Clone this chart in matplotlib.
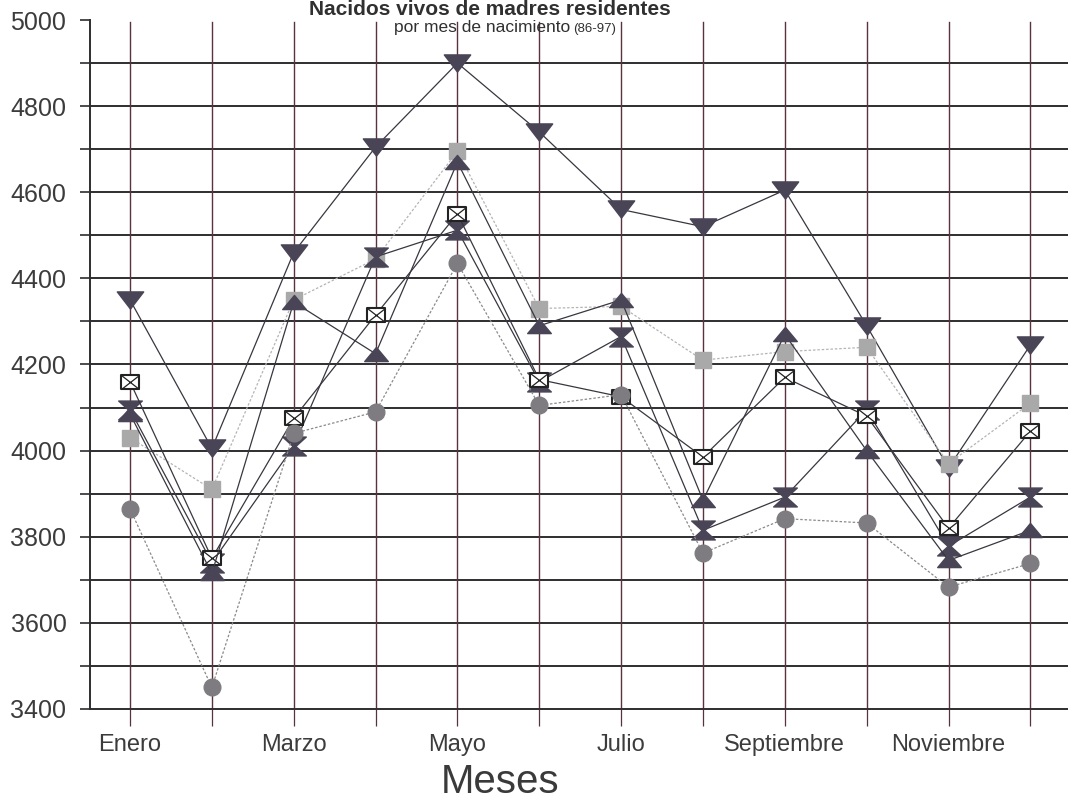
import matplotlib
matplotlib.use("Agg")
import matplotlib.pyplot as plt
from matplotlib.path import Path
import numpy as np

plt.rcParams['font.family'] = ['Liberation Sans', 'DejaVu Sans']

meses = ['Enero', 'Febrero', 'Marzo', 'Abril', 'Mayo', 'Junio', 'Julio',
         'Agosto', 'Septiembre', 'Octubre', 'Noviembre', 'Diciembre']
etiquetas = ['Enero', '', 'Marzo', '', 'Mayo', '', 'Julio', '',
             'Septiembre', '', 'Noviembre', '']

s_abajo = [4350, 4005, 4460, 4705, 4900, 4740, 4560, 4520, 4605, 4290, 3960, 4245]
s_gris = [4030, 3910, 4350, 4445, 4695, 4330, 4335, 4210, 4230, 4240, 3970, 4110]
s_caja = [4160, 3750, 4075, 4315, 4550, 4165, 4125, 3985, 4170, 4080, 3820, 4045]
s_circulo = [3865, 3450, 4040, 4090, 4435, 4105, 4130, 3762, 3842, 3832, 3683, 3738]
s_arriba = [4085, 3715, 4345, 4225, 4670, 4290, 4350, 3885, 4270, 4000, 3745, 3815]
s_reloj = [4095, 3740, 4010, 4450, 4512, 4160, 4265, 3815, 3892, 4095, 3778, 3892]

x = np.arange(1, 13)

oscuro = '#4a4556'
linea = '#3a3640'

# marcadores achatados
tri_abajo = Path([(-1, 0.65), (1, 0.65), (0, -0.65), (-1, 0.65)],
                 [Path.MOVETO, Path.LINETO, Path.LINETO, Path.CLOSEPOLY])
tri_arriba = Path([(-1, -0.6), (1, -0.6), (0, 0.6), (-1, -0.6)],
                  [Path.MOVETO, Path.LINETO, Path.LINETO, Path.CLOSEPOLY])
reloj = Path([(-1, 0.8), (1, 0.8), (0.12, 0), (1, -0.8), (-1, -0.8), (-0.12, 0), (-1, 0.8)],
             [Path.MOVETO] + [Path.LINETO] * 5 + [Path.CLOSEPOLY])
rect = Path([(-1, -0.78), (1, -0.78), (1, 0.78), (-1, 0.78), (-1, -0.78)],
            [Path.MOVETO, Path.LINETO, Path.LINETO, Path.LINETO, Path.CLOSEPOLY])
cruz = Path([(-1, -0.78), (1, 0.78), (-1, 0.78), (1, -0.78)],
            [Path.MOVETO, Path.LINETO, Path.MOVETO, Path.LINETO])

fig = plt.figure(figsize=(10.68, 8.02), dpi=100)
ax = fig.add_axes([90 / 1068, 93 / 802, 1 - 90 / 1068, 689 / 802])

ax.set_xlim(0.511, 12.46)
ax.set_ylim(3400, 5000)

# rejilla
for v in range(3500, 5000, 100):
    ax.axhline(v, color='#2e2e30', lw=1.4, zorder=1)
for m in x:
    ax.axvline(m, ymax=0.997, color='#58323c', lw=1.0, zorder=1)

ax.plot(x, s_abajo, color=linea, lw=0.9, marker=tri_abajo, ms=19,
        mfc=oscuro, mec=oscuro, zorder=3)
ax.plot(x, s_gris, color='#b4b4b4', lw=0.9, ls=(0, (2, 1.5)), marker='s', ms=12,
        mfc='#a9a9a9', mec='#a9a9a9', zorder=3)
ax.plot(x, s_reloj, color=linea, lw=0.9, marker=reloj, ms=17,
        mfc=oscuro, mec=oscuro, zorder=4)
ax.plot(x, s_caja, color=linea, lw=0.9, marker=rect, ms=13,
        mfc='white', mec='#222222', mew=1.5, zorder=5)
ax.plot(x, s_caja, ls='none', marker=cruz, ms=13, mfc='none',
        mec='#222222', mew=0.9, zorder=5)
ax.plot(x, s_circulo, color='#8a8a8a', lw=0.9, ls=(0, (2, 1.5)), marker='o', ms=12,
        mfc='#7e7c80', mec='#7e7c80', zorder=6)
ax.plot(x, s_arriba, color=linea, lw=0.9, marker=tri_arriba, ms=17,
        mfc=oscuro, mec=oscuro, zorder=6)

for lado in ['top', 'right']:
    ax.spines[lado].set_visible(False)
ax.spines['left'].set_color('#2e2e30')
ax.spines['bottom'].set_color('#2e2e30')
ax.spines['left'].set_linewidth(1.4)
ax.spines['bottom'].set_linewidth(1.4)

ax.set_yticks(range(3400, 5001, 200))
ax.set_yticks(range(3500, 5000, 200), minor=True)
ax.tick_params(axis='y', which='both', direction='out', length=7, width=1.2,
               color='#2e2e30', labelsize=18, labelcolor='#3c3c3c', pad=10)
ax.set_xticks(x)
ax.set_xticklabels(etiquetas)
ax.tick_params(axis='x', direction='out', length=12, width=0.9,
               color='#58323c', labelsize=17, labelcolor='#3c3c3c', pad=6)

fig.text(500 / 1068, 1 - 793 / 802, 'Meses', ha='center', va='baseline',
         fontsize=29, color='#3a3a3a')

fig.text(490 / 1068, 1 - 15 / 802, 'Nacidos vivos de madres residentes',
         ha='center', va='baseline', fontsize=15, fontweight='bold', color='#303030')
fig.text(570 / 1068, 1 - 32 / 802, 'por mes de nacimiento', ha='right',
         va='baseline', fontsize=12.5, color='#303030')
fig.text(573 / 1068, 1 - 32 / 802, '(86-97)', ha='left',
         va='baseline', fontsize=9.5, color='#303030')

fig.savefig('out.png', dpi=100)
